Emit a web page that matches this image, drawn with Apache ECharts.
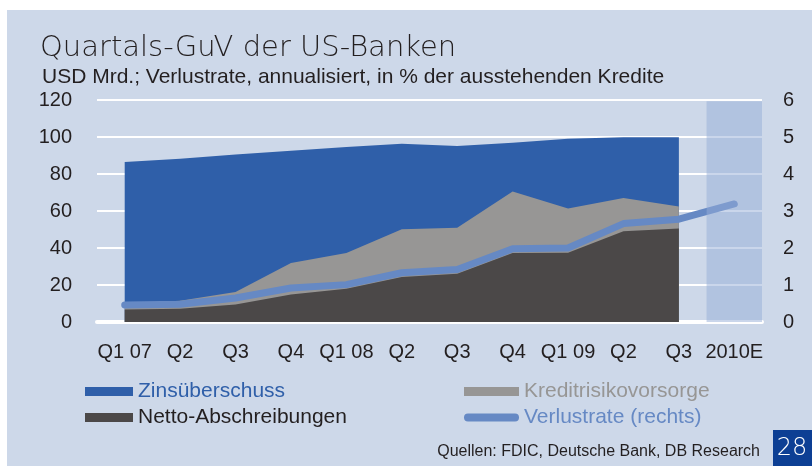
<!DOCTYPE html>
<html>
<head>
    <meta charset="utf-8">
    <script src="https://cdn.jsdelivr.net/npm/echarts@6/dist/echarts.min.js"></script>
    <style>
        html, body { margin: 0; padding: 0; background: #fff; }
    </style>
</head>
<body>
    <div id="main" style="width: 812px;height:466px;"></div>
    <script type="text/javascript">

    // quarters 2007-2009 plus 2010 estimate
    var categories = ['Q1 07', 'Q2', 'Q3', 'Q4', 'Q1 08', 'Q2', 'Q3', 'Q4', 'Q1 09', 'Q2', 'Q3', '2010E'];

    // USD Mrd.
    var zinsueberschuss = [86.5, 88.3, 90.5, 92.6, 94.6, 96.4, 95.1, 96.9, 99.1, 99.8, 99.8, null];
    var kreditrisikovorsorge = [10, 11.5, 16.2, 31.9, 37.3, 50.1, 51, 70.6, 61.3, 67, 62.5, null];
    var nettoAbschreibungen = [6.7, 7.2, 9.4, 14.8, 18, 24.3, 26.1, 37.3, 37.5, 49, 50.5, null];
    // % (right axis)
    var verlustrate = [0.46, 0.48, 0.65, 0.92, 1.01, 1.33, 1.42, 1.98, 2.0, 2.66, 2.78, 3.19];

    // shaded forecast column (2010E), stops just under the top gridline
    var forecastBand = [null, null, null, null, null, null, null, null, null, null, null, 119.3];

    var leftTicks = [0, 20, 40, 60, 80, 100, 120];
    var rightTicks = [0, 1, 2, 3, 4, 5, 6];

    var textColor = '#231f20';
    var font = 'Liberation Sans';

    var myChart = echarts.init(document.getElementById('main'));

    myChart.setOption({
        backgroundColor: '#ffffff',
        animation: false,
        title: [
            {
                text: 'Quartals-GuV der US-Banken',
                left: 35,
                top: 29,
                textStyle: { fontFamily: 'DejaVu Sans', fontWeight: 200, fontSize: 29, color: textColor }
            },
            {
                text: 'USD Mrd.; Verlustrate, annualisiert, in % der ausstehenden Kredite',
                left: 37,
                top: 62,
                textStyle: { fontFamily: font, fontWeight: 'normal', fontSize: 21, color: textColor }
            },
            {
                text: 'Quellen: FDIC, Deutsche Bank, DB Research',
                right: 47,
                top: 439,
                textStyle: { fontFamily: font, fontWeight: 'normal', fontSize: 16, color: textColor }
            }
        ],
        graphic: [
            {
                type: 'rect',
                shape: { x: 7, y: 10, width: 805, height: 456 },
                style: { fill: '#cdd8e9' },
                z: -10,
                silent: true
            },
            {
                type: 'rect',
                shape: { x: 773, y: 430, width: 39, height: 36 },
                style: { fill: '#0d3f94' },
                z: 10,
                silent: true
            },
            {
                type: 'text',
                x: 792,
                y: 449,
                style: {
                    text: '28', fill: '#ffffff', fontSize: 24, fontFamily: 'DejaVu Sans', fontWeight: 200,
                    align: 'center', verticalAlign: 'middle'
                },
                z: 11,
                silent: true
            }
        ],
        legend: [
            {
                orient: 'vertical',
                left: 80,
                top: 376,
                itemWidth: 48,
                itemHeight: 9,
                itemGap: 5,
                textStyle: { fontFamily: font, fontSize: 21, color: textColor },
                data: [
                    { name: 'Zinsüberschuss', icon: 'rect', textStyle: { color: '#2f5fa9' } },
                    { name: 'Netto-Abschreibungen', icon: 'rect', textStyle: { color: textColor } }
                ]
            },
            {
                orient: 'vertical',
                left: 459,
                top: 376,
                itemWidth: 55,
                itemHeight: 9,
                itemGap: 5,
                textStyle: { fontFamily: font, fontSize: 21, color: textColor },
                data: [
                    { name: 'Kreditrisikovorsorge', icon: 'rect', textStyle: { color: '#979695' } },
                    {
                        name: 'Verlustrate (rechts)',
                        icon: 'path://M4,0 L51,0 A4,4 0 0 1 51,8 L4,8 A4,4 0 0 1 4,0 Z',
                        textStyle: { color: '#6689c4' }
                    }
                ]
            }
        ],
        grid: {
            left: 97,
            right: 50,
            top: 100,
            bottom: 144
        },
        xAxis: {
            type: 'category',
            data: categories,
            boundaryGap: true,
            axisLine: { lineStyle: { color: '#ffffff', width: 4 } },
            axisTick: { show: false },
            axisLabel: { fontFamily: font, fontSize: 20, color: textColor, margin: 20, interval: 0 }
        },
        yAxis: [
            {
                type: 'value',
                min: leftTicks[0],
                max: leftTicks[leftTicks.length - 1],
                interval: 20,
                axisLine: { show: false },
                axisTick: { show: false },
                axisLabel: { fontFamily: font, fontSize: 20, color: textColor, margin: 25 },
                splitLine: { lineStyle: { color: '#ffffff', width: 2 } }
            },
            {
                type: 'value',
                min: rightTicks[0],
                max: rightTicks[rightTicks.length - 1],
                interval: 1,
                axisLine: { show: false },
                axisTick: { show: false },
                axisLabel: { fontFamily: font, fontSize: 20, color: textColor, margin: 21 },
                splitLine: { show: false }
            }
        ],
        series: [
            {
                name: 'Zinsüberschuss',
                type: 'line',
                data: zinsueberschuss,
                symbol: 'none',
                lineStyle: { width: 0 },
                itemStyle: { color: '#2f5fa9' },
                areaStyle: { color: '#2f5fa9', opacity: 1 }
            },
            {
                name: 'Kreditrisikovorsorge',
                type: 'line',
                data: kreditrisikovorsorge,
                symbol: 'none',
                lineStyle: { width: 0 },
                itemStyle: { color: '#979695' },
                areaStyle: { color: '#979695', opacity: 1 }
            },
            {
                name: 'Netto-Abschreibungen',
                type: 'line',
                data: nettoAbschreibungen,
                symbol: 'none',
                lineStyle: { width: 0 },
                itemStyle: { color: '#4b4848' },
                areaStyle: { color: '#4b4848', opacity: 1 }
            },
            {
                name: 'Verlustrate (rechts)',
                type: 'line',
                yAxisIndex: 1,
                data: verlustrate,
                symbol: 'none',
                itemStyle: { color: '#6689c4' },
                lineStyle: { width: 7, color: '#6689c4', cap: 'round', join: 'round' },
                z: 5
            },
            {
                name: 'Prognose',
                type: 'bar',
                data: forecastBand,
                barWidth: '100%',
                silent: true,
                itemStyle: { color: 'rgba(150,174,215,0.5)' },
                z: 8
            }
        ]
    });
    </script>
</body>
</html>
